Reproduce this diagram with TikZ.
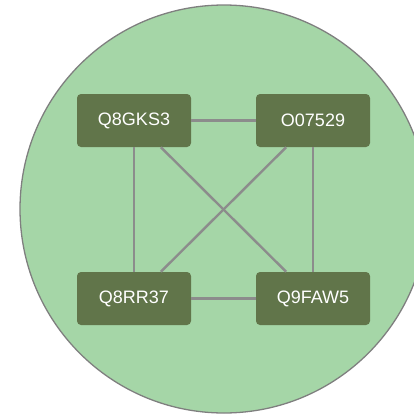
\documentclass[tikz,border=0pt]{standalone}
\usepackage{fontspec}
\setmainfont{Liberation Sans}
\definecolor{cellfill}{HTML}{A5D6A7}
\definecolor{cellline}{HTML}{7F7F7F}
\definecolor{nodefill}{HTML}{61754A}
\definecolor{edgecol}{HTML}{8C8C8C}
\tikzset{
  protein/.style={rectangle, rounded corners=4pt, fill=nodefill, draw=none,
    minimum width=114pt, minimum height=53pt, inner sep=0pt,
    text=white, font=\fontsize{18}{20}\selectfont},
  link/.style={draw=edgecol, line width=2.4pt}
}
\begin{document}
\begin{tikzpicture}[x=1pt,y=-1pt]
  \useasboundingbox (0,0) rectangle (414,416);
  \clip (0,0) rectangle (414,416);
  % compartment
  \node[circle, fill=cellfill, draw=cellline, line width=1.3pt,
        minimum size=408pt, inner sep=0pt] (cell) at (224,209) {};
  % proteins
  \node[protein] (a) at (134,120.5) {Q8GKS3};
  \node[protein] (b) at (313,120.5) {O07529};
  \node[protein] (c) at (134,298.5) {Q8RR37};
  \node[protein] (d) at (313,298.5) {Q9FAW5};
  % interactions
  \draw[link] (a) -- (b);
  \draw[link] (c) -- (d);
  \draw[link] (a) -- (c);
  \draw[link] (b) -- (d);
  \draw[link] (a) -- (d);
  \draw[link] (b) -- (c);
\end{tikzpicture}
\end{document}
